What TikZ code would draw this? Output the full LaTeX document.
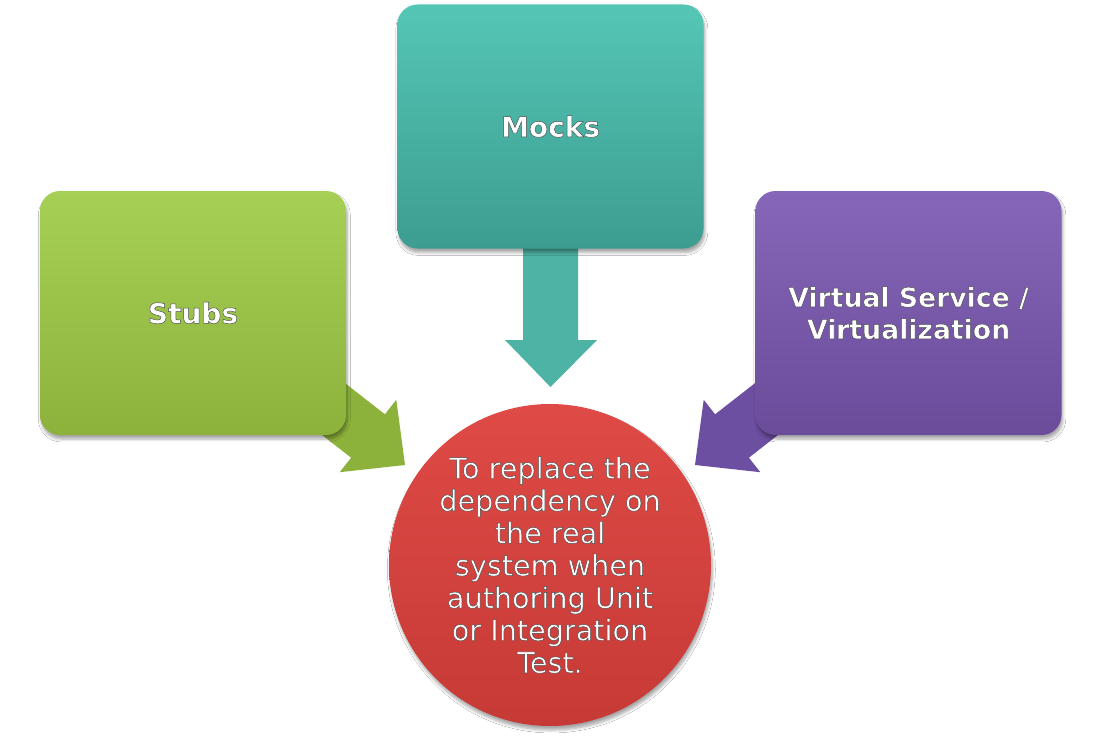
\documentclass[tikz,border=0pt]{standalone}
\usepackage{fontspec}
\setmainfont{DejaVu Sans}
\usetikzlibrary{shadows.blur}
\definecolor{gtop}{HTML}{A6D055}
\definecolor{gbot}{HTML}{8DB23C}
\definecolor{garrow}{HTML}{8DB23C}
\definecolor{ttop}{HTML}{55C6B6}
\definecolor{tbot}{HTML}{3C9D90}
\definecolor{tarrow}{HTML}{4DB3A5}
\definecolor{ptop}{HTML}{8666B8}
\definecolor{pbot}{HTML}{6A4C9B}
\definecolor{parrow}{HTML}{6D4FA1}
\definecolor{rtop}{HTML}{DF4A46}
\definecolor{rbot}{HTML}{C63A36}
\newcommand\outl[1]{\special{pdf:literal direct 2 Tr 0.35 w 0.3 0.3 0.3 RG}#1\special{pdf:literal direct 0 Tr 1 w}}
\tikzset{
  box/.style={rectangle, rounded corners=15pt, minimum width=229.5pt, minimum height=183pt,
    text=white, font=\bfseries\fontsize{21}{24}\selectfont, align=center, inner sep=0pt,
    blur shadow={shadow xshift=1pt, shadow yshift=-3pt, shadow opacity=35, shadow blur steps=6}},
  goal/.style={circle, minimum size=241.5pt, inner sep=0pt, text=white,
    font=\fontsize{21.5}{24.3}\selectfont, align=center,
    top color=rtop, bottom color=rbot,
    blur shadow={shadow xshift=1pt, shadow yshift=-3pt, shadow opacity=35, shadow blur steps=6}},
  blockarrow/.style={draw=none}
}
\begin{document}
\begin{tikzpicture}[x=0.75pt, y=-0.75pt]
\useasboundingbox (0,0) rectangle (1102,738);
\fill[white] (0,0) rectangle (1102,738);
% block arrows (beneath boxes)
\fill[garrow, blockarrow] (280.2,402.3) -- (351.1,457.7) -- (339.7,472.2) -- (405,465)
   -- (396.3,399.8) -- (384.9,414.3) -- (314.0,358.9) -- cycle;
\fill[tarrow, blockarrow] (523,230) -- (523,340) -- (505,340) -- (550.5,387)
   -- (597,340) -- (578,340) -- (578,230) -- cycle;
\fill[parrow, blockarrow] (819.8,402.3) -- (748.9,457.7) -- (760.3,472.2) -- (695,465)
   -- (703.7,399.8) -- (715.1,414.3) -- (786.0,358.9) -- cycle;
% boxes
\node[box, top color=gtop, bottom color=gbot] (stubs) at (193,313) {\outl{Stubs}};
\node[box, top color=ttop, bottom color=tbot] (mocks) at (550.5,126.5) {\outl{Mocks}};
\node[box, top color=ptop, bottom color=pbot, font=\bfseries\fontsize{20}{24}\selectfont] (virt) at (908.5,313) {\outl{Virtual Service /}\\\outl{Virtualization}};
\node[goal] (goal) at (550,565) {\outl{To replace the}\\\outl{dependency on}\\\outl{the real}\\\outl{system when}\\\outl{authoring Unit}\\\outl{or Integration}\\\outl{Test.}};
\end{tikzpicture}
\end{document}
